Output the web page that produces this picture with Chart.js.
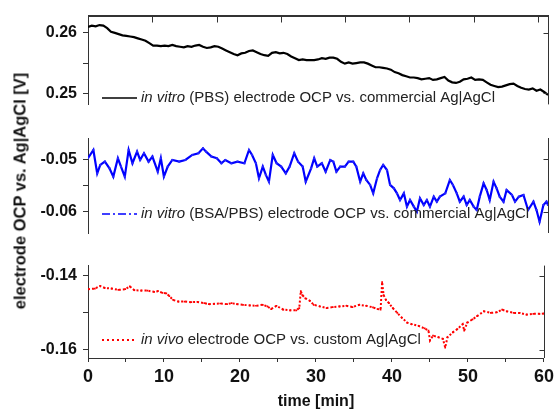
<!DOCTYPE html>
<html><head><meta charset="utf-8">
<script src="https://cdn.jsdelivr.net/npm/chart.js@4.4.1/dist/chart.umd.min.js"></script>
<style>
html,body{margin:0;padding:0;background:#fff;}
#wrap{position:relative;width:558px;height:414px;overflow:hidden;font-family:"Liberation Sans",Arial,sans-serif;}
.pane{position:absolute;left:0;width:558px;}
.pane canvas{display:block;}
#ytitle{position:absolute;left:20px;top:191px;transform:translate(-50%,-50%) rotate(-90deg);font-weight:bold;font-size:16.5px;white-space:nowrap;color:#111;}
</style></head>
<body><div id="wrap">
<div class="pane" style="top:0;height:120px"><canvas id="cA" width="558" height="120"></canvas></div>
<div class="pane" style="top:120px;height:130px"><canvas id="cB" width="558" height="130"></canvas></div>
<div class="pane" style="top:250px;height:164px"><canvas id="cC" width="558" height="164"></canvas></div>
<div id="ytitle">electrode OCP vs. Ag|AgCl [V]</div>
</div>
<script>
// ---------- data ----------
const pbsTime = [0,0.5,1,1.5,2,2.5,3,3.5,4,4.5,5,5.5,6,6.5,7,7.5,8,8.5,9,9.5,
10,10.5,11,11.5,12,12.5,13,13.5,14,14.5,15,15.5,16,16.5,17,17.5,18,18.5,19,19.5,
20,20.5,21,21.5,22,22.5,23,23.5,24,24.5,25,25.5,26,26.5,27,27.5,28,28.5,29,29.5,
30,30.5,31,31.5,32,32.5,33,33.5,34,34.5,35,35.5,36,36.5,37,37.5,38,38.5,39,39.5,
40,40.5,41,41.5,42,42.5,43,43.5,44,44.5,45,45.5,46,46.5,47,47.5,48,48.5,49,49.5,
50,50.5,51,51.5,52,52.5,53,53.5,54,54.5,55,55.5,56,56.5,57,57.5,58,58.5,59,59.5,60];
const pbsOCP = [0.2610,0.2612,0.2611,0.2613,0.2612,0.2608,0.2602,0.2600,0.2598,0.2596,
0.2595,0.2594,0.2593,0.2591,0.2589,0.2587,0.2583,0.2579,0.2579,0.2578,
0.2579,0.2578,0.2580,0.2578,0.2577,0.2576,0.2578,0.2577,0.2579,0.2580,
0.2577,0.2575,0.2576,0.2578,0.2577,0.2574,0.2571,0.2568,0.2565,0.2563,
0.2566,0.2567,0.2570,0.2571,0.2568,0.2565,0.2563,0.2562,0.2567,0.2568,
0.2566,0.2567,0.2565,0.2561,0.2558,0.2555,0.2556,0.2555,0.2555,0.2555,
0.2556,0.2558,0.2557,0.2559,0.2559,0.2557,0.2552,0.2549,0.2551,0.2549,
0.2550,0.2551,0.2551,0.2549,0.2546,0.2543,0.2543,0.2542,0.2541,0.2539,
0.2535,0.2533,0.2530,0.2528,0.2526,0.2526,0.2525,0.2523,0.2524,0.2525,
0.2522,0.2523,0.2525,0.2527,0.2521,0.2518,0.2517,0.2519,0.2523,0.2524,
0.2526,0.2522,0.2523,0.2522,0.2518,0.2514,0.2512,0.2510,0.2511,0.2513,
0.2515,0.2516,0.2512,0.2509,0.2507,0.2506,0.2508,0.2504,0.2506,0.2502,
0.2497];

const bsaTime = [0,0.7,1.2,1.6,2.2,2.8,3.3,3.9,4.3,4.8,5.3,5.8,6.4,6.8,7.3,7.9,8.4,9.1,9.5,9.9,
10.4,11.0,11.9,12.7,13.6,14.4,15.0,15.4,16.1,16.8,17.4,17.9,18.7,19.5,20.4,21.0,21.4,21.9,22.3,22.8,
23.2,23.6,24.1,24.6,25.2,25.8,26.3,26.9,27.4,28.0,28.4,29.1,29.5,29.9,30.5,31.0,31.6,32.0,32.4,32.9,
33.5,34.0,34.6,35.0,35.5,35.9,36.3,36.8,37.2,37.7,38.1,38.5,39.0,39.4,39.9,40.3,40.7,41.2,41.6,42.0,
42.5,42.9,43.3,43.8,44.2,44.6,45.1,45.5,45.9,46.6,47.2,47.6,48.1,48.5,49.0,49.4,49.8,50.3,50.7,51.1,
51.6,52.0,52.4,52.9,53.3,53.7,54.2,54.6,55.3,55.7,56.2,56.8,57.4,58.1,58.5,58.9,59.4,59.8,60.0];
const bsaOCP = [-0.04981,-0.04822,-0.05268,-0.05108,-0.05045,-0.05172,-0.05331,-0.04981,-0.05140,-0.05331,
-0.04822,-0.05076,-0.04854,-0.05013,-0.04885,-0.05045,-0.04949,-0.05236,-0.04981,-0.05331,
-0.05140,-0.05013,-0.05045,-0.05013,-0.04917,-0.04885,-0.04790,-0.04854,-0.04949,-0.04981,
-0.05076,-0.05013,-0.05076,-0.05045,-0.05076,-0.04822,-0.04917,-0.05076,-0.05363,-0.05140,
-0.05299,-0.05427,-0.04917,-0.05076,-0.05140,-0.05268,-0.05140,-0.04885,-0.05045,-0.05140,
-0.05427,-0.05172,-0.04981,-0.05140,-0.05076,-0.05236,-0.05013,-0.05045,-0.05236,-0.05140,
-0.05140,-0.05045,-0.05045,-0.05140,-0.05427,-0.05268,-0.05395,-0.05490,-0.05650,-0.05363,
-0.05204,-0.05108,-0.05204,-0.05490,-0.05554,-0.05650,-0.05777,-0.05650,-0.05904,-0.05777,
-0.05904,-0.06000,-0.05745,-0.05873,-0.05777,-0.05904,-0.05713,-0.05809,-0.05713,-0.05650,
-0.05395,-0.05490,-0.05650,-0.05809,-0.05713,-0.05873,-0.05777,-0.05904,-0.05968,-0.05713,
-0.05459,-0.05586,-0.05777,-0.05427,-0.05554,-0.05713,-0.05809,-0.05586,-0.05682,-0.05809,
-0.05713,-0.05682,-0.05968,-0.05809,-0.05968,-0.06191,-0.05873,-0.05809,-0.05873];

const vivoTime = [0,0.9,1.6,2.2,3.1,4.0,4.9,5.5,6.1,7.0,7.8,8.7,9.2,9.8,10.3,10.7,11.2,11.9,12.7,13.6,
14.4,15.3,15.9,16.6,17.4,18.3,18.9,19.6,20.4,21.3,22.1,23.0,23.6,24.1,24.8,25.7,26.6,27.4,27.8,28.0,
28.2,28.6,29.2,29.7,30.5,31.4,32.2,33.1,34.0,34.8,35.7,36.6,37.5,38.1,38.5,38.7,38.9,39.2,39.6,40.1,
40.7,41.3,42.0,42.6,43.5,44.3,44.8,45.0,45.4,46.1,46.7,47.0,47.3,48.0,48.6,49.3,49.5,49.9,50.6,51.2,
52.1,53.0,53.8,54.5,55.1,56.0,56.8,57.7,58.6,59.4,60.0];
const vivoOCP = [-0.14368,-0.14351,-0.14281,-0.14333,-0.14351,-0.14386,-0.14368,-0.14289,-0.14395,-0.14404,
-0.14404,-0.14439,-0.14421,-0.14465,-0.14482,-0.14553,-0.14658,-0.14702,-0.14702,-0.14719,
-0.14711,-0.14746,-0.14772,-0.14763,-0.14754,-0.14772,-0.14746,-0.14772,-0.14789,-0.14807,
-0.14816,-0.14789,-0.14833,-0.14904,-0.14816,-0.14921,-0.14939,-0.14939,-0.14877,-0.14421,
-0.14526,-0.14614,-0.14684,-0.14789,-0.14833,-0.14877,-0.14851,-0.14833,-0.14816,-0.14851,
-0.14789,-0.14816,-0.14860,-0.14904,-0.14921,-0.14175,-0.14526,-0.14658,-0.14746,-0.14877,
-0.15009,-0.15140,-0.15272,-0.15316,-0.15360,-0.15430,-0.15491,-0.15754,-0.15623,-0.15667,
-0.15711,-0.15947,-0.15667,-0.15535,-0.15447,-0.15316,-0.15491,-0.15272,-0.15184,-0.15096,
-0.14965,-0.15009,-0.14991,-0.14921,-0.14965,-0.15009,-0.15009,-0.15053,-0.15035,-0.15035,-0.15026];

// tick values and labels
const yTicksA = [0.25, 0.255, 0.26];
const yLabelsA = ['0.25', '', '0.26'];
const yTicksB = [-0.06, -0.055, -0.05];
const yLabelsB = ['-0.06', '', '-0.05'];
const yTicksC = [-0.16, -0.15, -0.14];
const yLabelsC = ['-0.16', '', '-0.14'];
const xTicks = [0,5,10,15,20,25,30,35,40,45,50,55,60];
const xLabels = ['0','','10','','20','','30','','40','','50','','60'];
const topAxisTicks = [1,2,3,4,5,6,7];

const legendA = ['in vitro', ' (PBS) electrode OCP vs. commercial Ag|AgCl'];
const legendB = ['in vitro', ' (BSA/PBS) electrode OCP vs. commercial Ag|AgCl'];
const legendC = ['in vivo', ' electrode OCP vs. custom Ag|AgCl'];
const xTitle = 'time [min]';

// ---------- rendering ----------
const FONT = '"Liberation Sans", Arial, sans-serif';
Chart.defaults.font.family = FONT;
Chart.defaults.animation = false;
const AXC = '#333';

function pts(t, v) { return t.map((x, i) => ({x: x, y: v[i]})); }

function yScale(min, max, ticks, labels) {
  return {
    type: 'linear', position: 'left', min: min, max: max,
    afterFit: s => { s.width = 88; },
    afterBuildTicks: s => { s.ticks = ticks.map(v => ({value: v})); },
    ticks: { callback: (v, i) => labels[i], font: {size: 16, weight: 'bold'}, color: '#111', padding: 6, autoSkip: false },
    grid: { drawOnChartArea: false, drawTicks: true, tickLength: 5, color: AXC },
    border: { display: true, color: AXC, width: 1 }
  };
}

function framePlugin(opts) {
  return {
    id: 'frame' + opts.id,
    afterDraw(chart) {
      const ctx = chart.ctx, a = chart.chartArea, ys = chart.scales.y;
      ctx.save();
      ctx.strokeStyle = AXC; ctx.lineWidth = 1;
      // right axis line
      const rx = Math.round(a.right) + 0.5;
      ctx.beginPath();
      ctx.moveTo(rx, a.top);
      ctx.lineTo(rx, a.bottom);
      ctx.stroke();
      // inward right ticks
      opts.rightTicks.forEach(v => {
        const y = Math.round(ys.getPixelForValue(v)) + 0.5;
        ctx.beginPath(); ctx.moveTo(rx - 5, y); ctx.lineTo(rx, y); ctx.stroke();
      });
      if (opts.topAxis) {
        const xs = chart.scales.xt;
        const ty = Math.round(a.top) + 0.5;
        ctx.beginPath();
        ctx.moveTo(a.left, ty);
        ctx.lineTo(rx + 0.5, ty);
        ctx.stroke();
        opts.topAxis.forEach(v => {
          const x = Math.round(xs.getPixelForValue(v)) + 0.5;
          ctx.beginPath(); ctx.moveTo(x, ty); ctx.lineTo(x, ty + 6); ctx.stroke();
        });
      }
      // legend
      const ly = opts.legendY;
      ctx.beginPath();
      ctx.strokeStyle = opts.color;
      ctx.lineWidth = opts.sampleWidth;
      ctx.setLineDash(opts.dash);
      ctx.moveTo(102, ly); ctx.lineTo(137, ly);
      ctx.stroke();
      ctx.setLineDash([]);
      ctx.fillStyle = '#222';
      ctx.textBaseline = 'middle';
      ctx.textAlign = 'left';
      ctx.font = 'italic 15px ' + FONT;
      ctx.fillText(opts.legend[0], 141, ly);
      const w = ctx.measureText(opts.legend[0]).width;
      ctx.font = '15px ' + FONT;
      ctx.fillText(opts.legend[1], 141 + w, ly);
      ctx.restore();
    }
  };
}

const hiddenX = { type: 'linear', min: 0, max: 60, display: false };

// Top panel
new Chart(document.getElementById('cA'), {
  type: 'line',
  data: { datasets: [{ data: pts(pbsTime, pbsOCP), borderColor: '#000', borderWidth: 2.2, pointRadius: 0, tension: 0 }] },
  options: {
    responsive: false, animation: false,
    layout: { padding: {left: 0, right: 10, top: 15, bottom: 10}, autoPadding: false },
    plugins: { legend: {display: false}, tooltip: {enabled: false} },
    scales: {
      x: hiddenX,
      xt: {
        type: 'linear', min: 0, max: 7.154, position: 'top', display: true,
        afterFit: s => { s.height = 0; },
        ticks: { display: false },
        grid: { display: false, drawTicks: false },
        border: { display: true, color: AXC, width: 1 }
      },
      y: yScale(0.24814, 0.26287, yTicksA, yLabelsA)
    }
  },
  plugins: [framePlugin({id: 'A', rightTicks: [0.25, 0.26], topAxis: topAxisTicks, legendY: 98, legend: legendA, color: '#000', dash: [], sampleWidth: 1.6})]
});

// Middle panel
new Chart(document.getElementById('cB'), {
  type: 'line',
  data: { datasets: [{ data: pts(bsaTime, bsaOCP), borderColor: '#0000ff', borderWidth: 2.2, pointRadius: 1.4, pointStyle: 'rect', pointBackgroundColor: '#2a2aff', pointBorderWidth: 0, tension: 0 }] },
  options: {
    responsive: false, animation: false,
    layout: { padding: {left: 0, right: 10, top: 18, bottom: 17}, autoPadding: false },
    plugins: { legend: {display: false}, tooltip: {enabled: false} },
    scales: { x: hiddenX, y: yScale(-0.06407, -0.04594, yTicksB, yLabelsB) }
  },
  plugins: [framePlugin({id: 'B', rightTicks: [-0.05, -0.06], legendY: 94, legend: legendB, color: '#0000ff', dash: [8, 3, 2, 3], sampleWidth: 1.6})]
});

// Bottom panel
new Chart(document.getElementById('cC'), {
  type: 'line',
  data: { datasets: [{ data: pts(vivoTime, vivoOCP), borderColor: '#ff0000', borderWidth: 2, borderDash: [2, 2], pointRadius: 1.2, pointStyle: 'rect', pointBackgroundColor: '#ff0000', pointBorderWidth: 0, tension: 0 }] },
  options: {
    responsive: false, animation: false,
    layout: { padding: {left: 0, right: 10, top: 13, bottom: 0}, autoPadding: false },
    plugins: { legend: {display: false}, tooltip: {enabled: false} },
    scales: {
      x: {
        type: 'linear', position: 'bottom', min: 0, max: 60,
        afterFit: s => { s.height = 56; },
        afterBuildTicks: s => { s.ticks = xTicks.map(v => ({value: v})); },
        ticks: { callback: (v, i) => xLabels[i], font: {size: 18, weight: 'bold'}, color: '#111', padding: 4, autoSkip: false, maxRotation: 0 },
        grid: { drawOnChartArea: false, drawTicks: true, tickLength: 4, color: AXC },
        border: { display: true, color: AXC, width: 1 },
        title: { display: true, text: xTitle, font: {size: 16, weight: 'bold'}, color: '#111', padding: {top: 0, bottom: 3} }
      },
      y: yScale(-0.16229, -0.13729, yTicksC, yLabelsC)
    }
  },
  plugins: [framePlugin({id: 'C', rightTicks: [-0.14, -0.16], legendY: 90, legend: legendC, color: '#ff0000', dash: [2, 3], sampleWidth: 2})]
});
</script>
</body></html>
